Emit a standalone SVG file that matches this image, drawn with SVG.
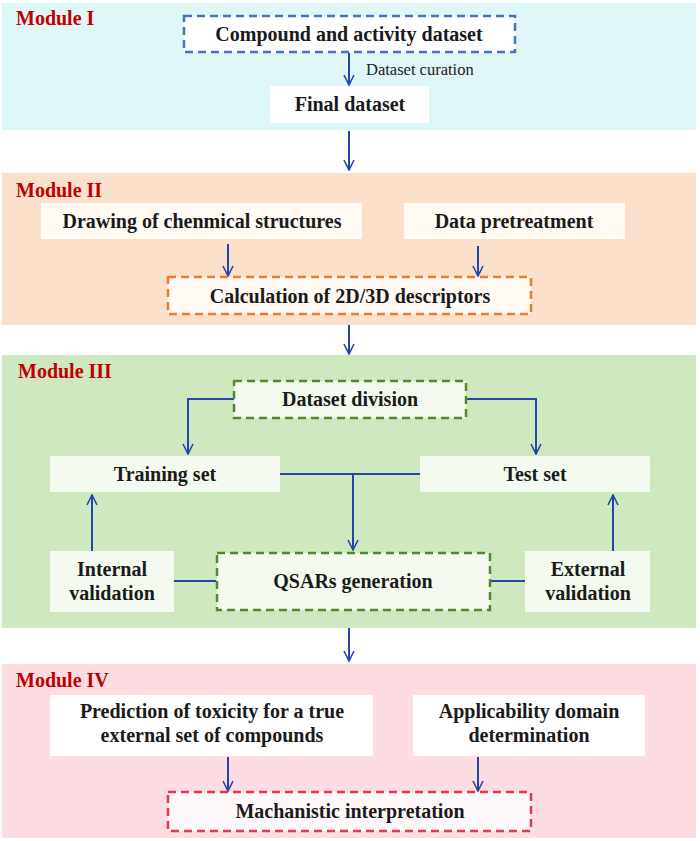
<svg xmlns="http://www.w3.org/2000/svg" width="700" height="841" viewBox="0 0 700 841">
<defs>
<marker id="ah" viewBox="0 0 12 12" refX="11" refY="6" markerWidth="12" markerHeight="12" markerUnits="userSpaceOnUse" orient="auto">
<path d="M1,1 L11,6 L1,11" fill="none" stroke="#2446a8" stroke-width="1.6"/>
</marker>
<style>
.t{font-family:"Liberation Serif","Times New Roman",serif;font-weight:bold;font-size:20px;fill:#1a1a1a;text-anchor:middle}
.m{font-family:"Liberation Serif","Times New Roman",serif;font-weight:bold;font-size:20px;fill:#c00000}
.lbl{font-family:"Liberation Serif","Times New Roman",serif;font-size:16.5px;fill:#222}
.c{fill:none;stroke:#2446a8;stroke-width:2}
.a{fill:none;stroke:#2446a8;stroke-width:2;marker-end:url(#ah)}
.d{stroke-width:2.5;stroke-dasharray:8 5}
</style>
</defs>
<rect width="700" height="841" fill="#ffffff"/>
<g id="module1">
<rect x="2" y="3" width="694" height="127" fill="#dff7f6"/>
<text class="m" x="16" y="25">Module I</text>
</g>
<g id="module2">
<rect x="2" y="173" width="694" height="152" fill="#fbe1cc"/>
<text class="m" x="16" y="197">Module II</text>
</g>
<g id="module3">
<rect x="2" y="355" width="694" height="273" fill="#cfe8c0"/>
<text class="m" x="18" y="378">Module III</text>
</g>
<g id="module4">
<rect x="2" y="664" width="694" height="174" fill="#fddde2"/>
<text class="m" x="16" y="687">Module IV</text>
</g>

<g id="connectors">
<line class="a" x1="349" y1="53" x2="349" y2="85"/>
<text class="lbl" x="366" y="75">Dataset curation</text>
<line class="a" x1="349" y1="131" x2="349" y2="170"/>
<line class="a" x1="228" y1="244" x2="228" y2="276"/>
<line class="a" x1="478" y1="246" x2="478" y2="276"/>
<line class="a" x1="349" y1="325" x2="349" y2="354"/>
<polyline class="a" points="234,399 188,399 188,454"/>
<polyline class="a" points="466,399 536,399 536,454"/>
<line class="c" x1="280" y1="474" x2="420" y2="474"/>
<line class="a" x1="353" y1="474" x2="353" y2="550"/>
<line class="a" x1="92" y1="551" x2="92" y2="495"/>
<line class="a" x1="613" y1="551" x2="613" y2="495"/>
<line class="c" x1="174" y1="581" x2="216" y2="581"/>
<line class="c" x1="490" y1="581" x2="525" y2="581"/>
<line class="a" x1="349" y1="628" x2="349" y2="661"/>
<line class="a" x1="228" y1="757" x2="228" y2="791"/>
<line class="a" x1="478" y1="757" x2="478" y2="791"/>
</g>

<g id="n-compound">
<rect class="d" x="184" y="16" width="331" height="36" fill="#ffffff" stroke="#4472c4"/>
<text class="t" x="349" y="41">Compound and activity dataset</text>
</g>
<g id="n-final">
<rect x="270" y="86" width="159" height="37" fill="#ffffff"/>
<text class="t" x="350" y="111">Final dataset</text>
</g>
<g id="n-drawing">
<rect x="41" y="203" width="321" height="36" fill="#fffaf4"/>
<text class="t" x="202" y="228">Drawing of chenmical structures</text>
</g>
<g id="n-pretreat">
<rect x="404" y="203" width="221" height="36" fill="#fffaf4"/>
<text class="t" x="514" y="228">Data pretreatment</text>
</g>
<g id="n-calc">
<rect class="d" x="168" y="277" width="363" height="37" fill="#fffaf4" stroke="#f07b26"/>
<text class="t" x="350" y="303">Calculation of 2D/3D descriptors</text>
</g>
<g id="n-division">
<rect class="d" x="234" y="381" width="232" height="37" fill="#f4faf0" stroke="#4f8a2e"/>
<text class="t" x="350" y="406">Dataset division</text>
</g>
<g id="n-training">
<rect x="50" y="456" width="230" height="36" fill="#f4faf0"/>
<text class="t" x="165" y="481">Training set</text>
</g>
<g id="n-test">
<rect x="420" y="456" width="230" height="36" fill="#f4faf0"/>
<text class="t" x="535" y="481">Test set</text>
</g>
<g id="n-internal">
<rect x="50" y="551" width="124" height="61" fill="#f4faf0"/>
<text class="t" x="112" y="576">Internal</text>
<text class="t" x="112" y="600">validation</text>
</g>
<g id="n-qsar">
<rect class="d" x="217" y="553" width="273" height="57" fill="#f4faf0" stroke="#4f8a2e"/>
<text class="t" x="353" y="588">QSARs generation</text>
</g>
<g id="n-external">
<rect x="525" y="551" width="125" height="61" fill="#f4faf0"/>
<text class="t" x="588" y="576">External</text>
<text class="t" x="588" y="600">validation</text>
</g>
<g id="n-prediction">
<rect x="50" y="695" width="323" height="61" fill="#ffffff"/>
<text class="t" x="212" y="718">Prediction of toxicity for a true</text>
<text class="t" x="212" y="742">external set of compounds</text>
</g>
<g id="n-applicability">
<rect x="413" y="695" width="232" height="61" fill="#ffffff"/>
<text class="t" x="529" y="718">Applicability domain</text>
<text class="t" x="529" y="742">determination</text>
</g>
<g id="n-mechanistic">
<rect class="d" x="168" y="792" width="363" height="39" fill="#fff8f8" stroke="#e8364e"/>
<text class="t" x="350" y="818">Machanistic interpretation</text>
</g>
</svg>
